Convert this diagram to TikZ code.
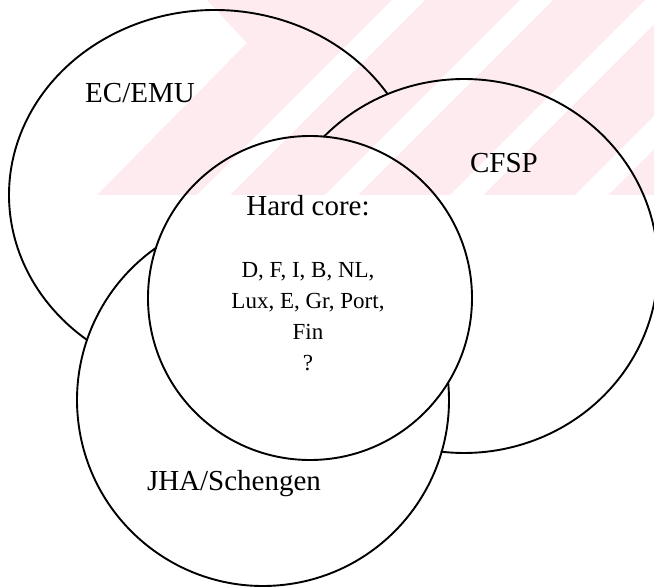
\documentclass[tikz,border=0pt]{standalone}
\usepackage{fontspec}
\setmainfont{Liberation Serif}
\definecolor{wmpink}{RGB}{253,235,239}
\tikzset{
  venn/.style={line width=1.9pt, line join=round, line cap=round},
  lbl/.style={inner sep=0pt, anchor=base, font=\fontsize{29}{33}\selectfont},
  members/.style={inner sep=0pt, anchor=north, align=center, font=\fontsize{23}{31}\selectfont}
}
\begin{document}
\begin{tikzpicture}[x=1pt, y=-1pt]
\useasboundingbox (0,0) rectangle (654,588);
% watermark stripes
\fill[wmpink] (207,0) -- (654,0) -- (654,195) -- (97,195) -- (247,43) -- cycle;
\begin{scope}
  \clip (0,0) rectangle (654,195);
  \foreach \s in {392,520,645,770}
    \fill[white] (\s,0) -- ++(33,0) -- ++(-195,195) -- ++(-33,0) -- cycle;
\end{scope}
% EC/EMU, behind the others
\draw[venn] (215,195) ++(-33.1:206 and 185)
  arc[start angle=-33.1, end angle=-231.6, x radius=206, y radius=185];
% CFSP
\draw[venn] (464,266) ++(-136.3:194 and 187)
  arc[start angle=-136.3, end angle=96.7, x radius=194, y radius=187];
% JHA/Schengen
\draw[venn] (263,400) ++(-5.37:186)
  arc[start angle=-5.37, end angle=234.85, radius=186];
% hard core
\draw[venn] (310,298) circle[radius=162];
\node[lbl] (ecemu) at (140,103) {EC/EMU};
\node[lbl] (cfsp) at (504,173) {CFSP};
\node[lbl] (jha) at (234,490) {JHA/Schengen};
\node[lbl] (core) at (308,216) {Hard core:};
\node[members] (states) at (308,262) {D, F, I, B, NL,\\Lux, E, Gr, Port,\\Fin\\?};
\end{tikzpicture}
\end{document}
